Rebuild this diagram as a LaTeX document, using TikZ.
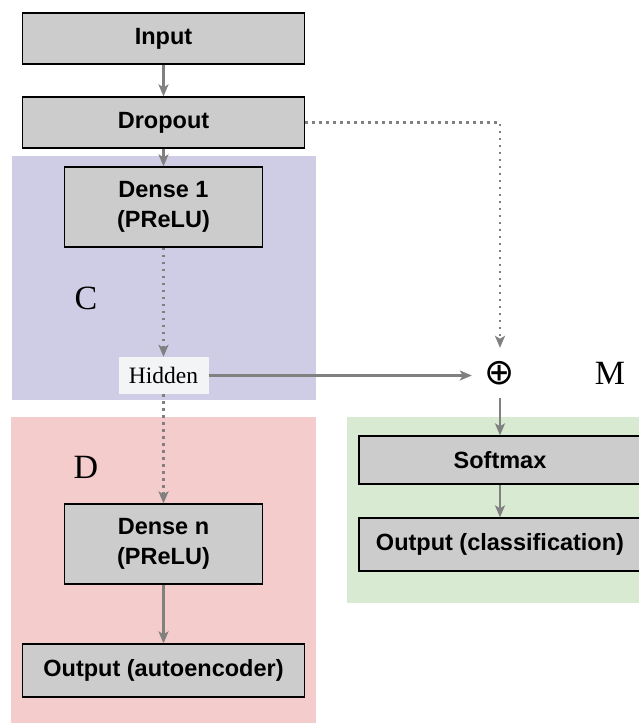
\documentclass[tikz,border=0pt]{standalone}
\usepackage{fontspec}
\setmainfont{Liberation Serif}
\setsansfont{Liberation Sans}
\newfontfamily\symbolfont{DejaVu Sans}
\usetikzlibrary{arrows.meta}
\definecolor{encblue}{RGB}{207,204,230}
\definecolor{decpink}{RGB}{244,204,204}
\definecolor{mixgreen}{RGB}{217,234,211}
\definecolor{boxgray}{RGB}{204,204,204}
\definecolor{hiddenfill}{RGB}{243,244,246}
\definecolor{linkgray}{RGB}{128,128,128}
\begin{document}
\begin{tikzpicture}
[x=1pt, y=-1pt,
 layer/.style={draw=black, line width=1.3pt, fill=boxgray, align=center, inner sep=0pt,
   minimum width=198pt, minimum height=80pt, font=\sffamily\bfseries\fontsize{23.5}{30}\selectfont},
 wide/.style={layer, minimum width=282pt, minimum height=51pt},
 letter/.style={font=\fontsize{34}{34}\selectfont},
 >={Stealth[length=12pt, width=10pt, inset=3pt]},
 link/.style={->, draw=linkgray, line width=2.2pt},
 dots/.style={link, dash pattern=on 2.4pt off 4.6pt}]
\useasboundingbox (0,0) rectangle (639,723);
\fill [encblue] (12,156) rectangle (316,400);
\fill [decpink] (11,417) rectangle (316,723);
\fill [mixgreen] (347,417) rectangle (639,603);

\node (Input) at (163.5,38.5) [wide] {Input};
\node (Dropout) at (163.5,122.5) [wide] {Dropout};
\node (Dense1) at (163.5,207) [layer] {Dense 1\\(PReLU)};
\node (Hidden) at (163.5,375.5) [fill=hiddenfill, minimum width=90pt, minimum height=37pt,
  inner sep=0pt, font=\fontsize{23.5}{28}\selectfont] {Hidden};
\node (Densen) at (163.5,544) [layer] {Dense n\\(PReLU)};
\node (OutAE) at (163.5,670.5) [wide, minimum height=53pt] {Output (autoencoder)};

\node (Mix) at (500,373) [minimum width=56pt, minimum height=50pt, inner sep=0pt,
  font=\symbolfont\fontsize{36}{36}\selectfont] {⊕};
\node (Softmax) at (500,460) [wide, minimum height=48pt] {Softmax};
\node (OutCls) at (500,544.5) [wide, minimum height=53pt] {Output (classification)};

\node (C) at (86,298) [letter] {C};
\node (D) at (86,467) [letter] {D};
\node (M) at (610,373) [letter] {M};

\draw [link] (Input) -- (Dropout);
\draw [link] (Dropout) -- (Dense1);
\draw [dots] (Dense1) -- (Hidden);
\draw [dots] (Hidden) -- (Densen);
\draw [link] (Densen) -- (OutAE);
\draw [dots] (Dropout.east) -| (Mix.north);
\draw [link] (Hidden.east) -- (Hidden.east -| Mix.west);
\draw [link] (Mix) -- (Softmax);
\draw [link] (Softmax) -- (OutCls);
\end{tikzpicture}
\end{document}
